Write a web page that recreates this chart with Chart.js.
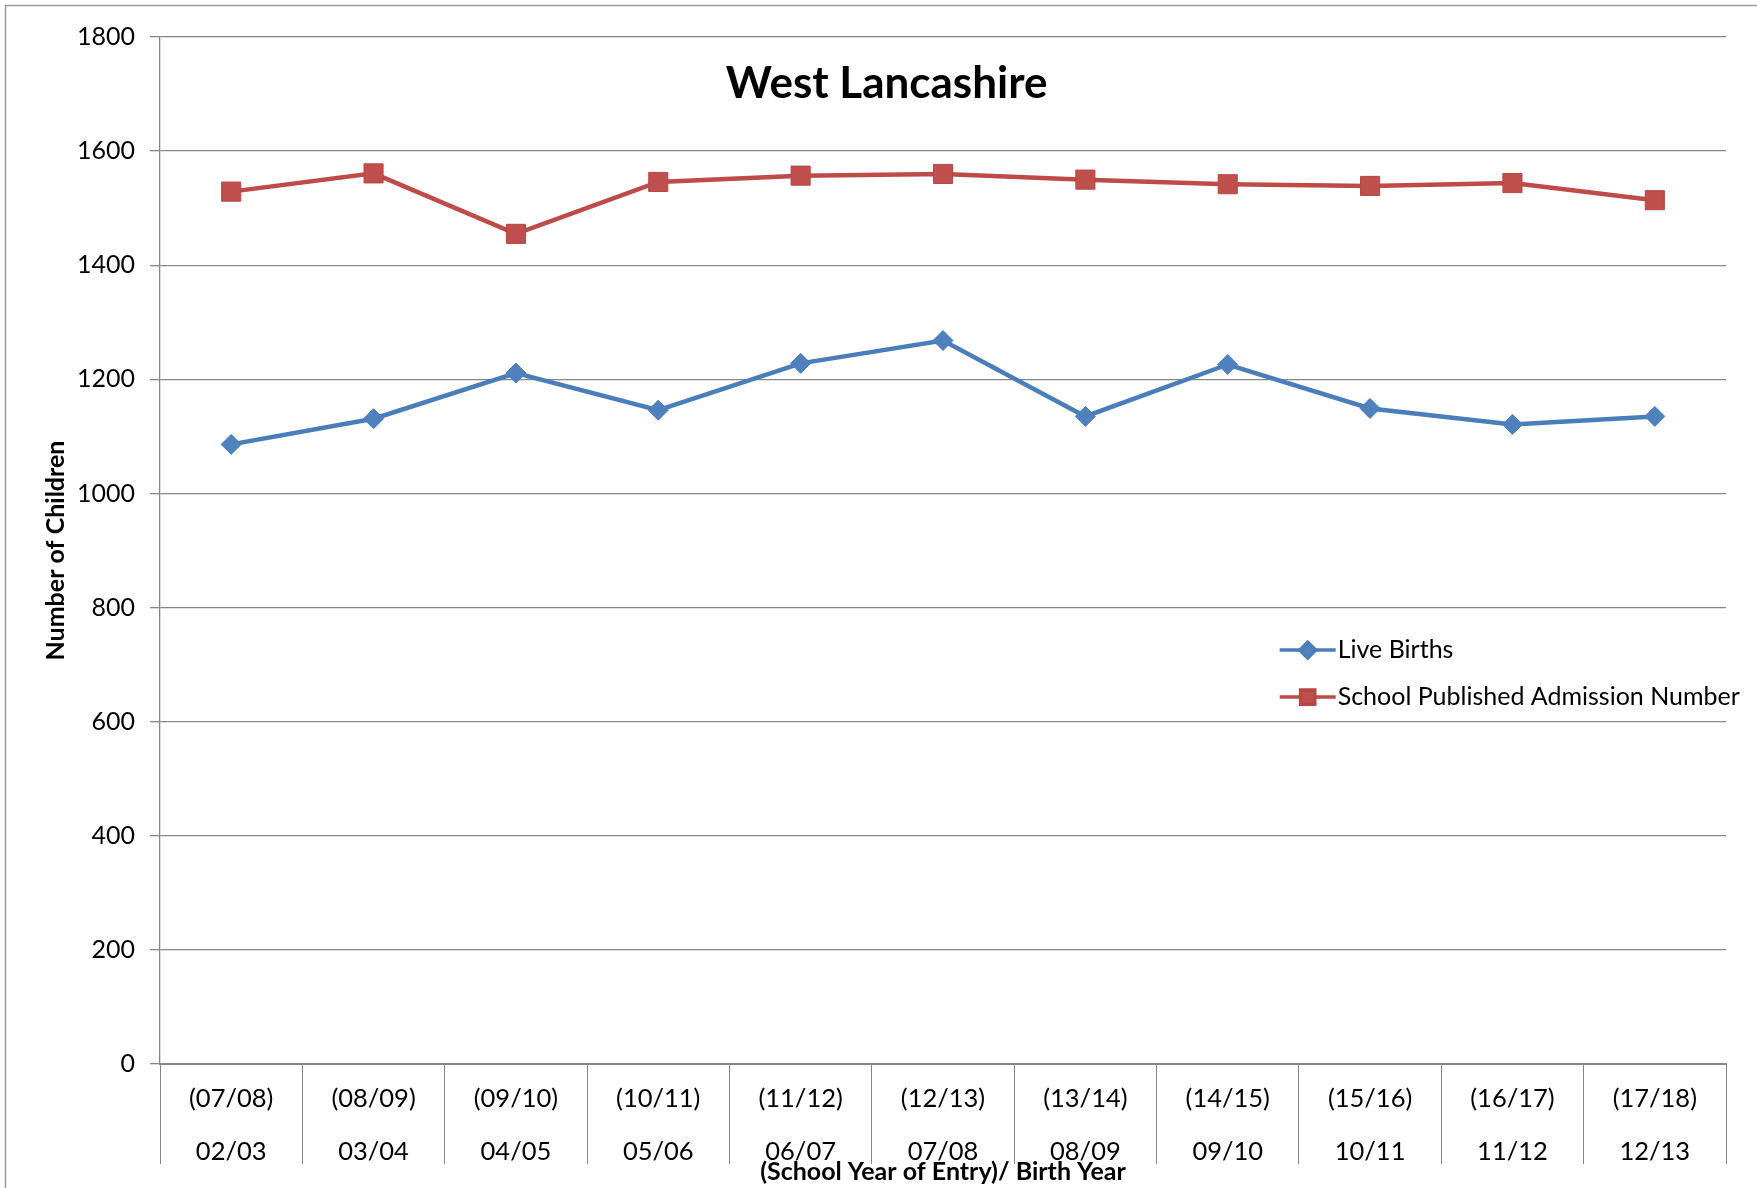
<!DOCTYPE html>
<html>
<head>
<meta charset="utf-8">
<script src="https://cdn.jsdelivr.net/npm/chart.js@4/dist/chart.umd.min.js"></script>
<style>
  html, body { margin: 0; padding: 0; background: #fff; }
  #wrap { position: relative; width: 1757px; height: 1188px; }
</style>
</head>
<body>
<div id="wrap"><canvas id="c" width="1757" height="1188"></canvas></div>
<script>
const chartTitle = "West Lancashire";
const schoolYears = ["(07/08)","(08/09)","(09/10)","(10/11)","(11/12)","(12/13)","(13/14)","(14/15)","(15/16)","(16/17)","(17/18)"];
const birthYears = ["02/03","03/04","04/05","05/06","06/07","07/08","08/09","09/10","10/11","11/12","12/13"];
const liveBirths = [1086, 1131, 1211, 1146, 1228, 1268, 1135, 1226, 1149, 1121, 1135];
const admissionNumber = [1529, 1561, 1455, 1546, 1557, 1560, 1550, 1542, 1539, 1544, 1514];
const seriesNames = ["Live Births", "School Published Admission Number"];
const yAxisTitle = "Number of Children";
const xAxisTitle = "(School Year of Entry)/ Birth Year";

const labels = schoolYears.map((s, i) => [s, birthYears[i]]);
const FONT = "Lato, 'Open Sans', sans-serif";
const GRID = "#878787";

const framePlugin = {
  id: 'frame',
  beforeDraw(chart) {
    const ctx = chart.ctx;
    ctx.save();
    ctx.fillStyle = '#fff';
    ctx.fillRect(0, 0, chart.width, chart.height);
    ctx.strokeStyle = '#9a9a9a';
    ctx.lineWidth = 1.5;
    ctx.strokeRect(5.5, 5.5, chart.width + 20, chart.height + 20);
    ctx.restore();
  }
};

const overlayPlugin = {
  id: 'overlay',
  afterDatasetsDraw(chart) {
    const ctx = chart.ctx;
    const a = chart.chartArea;
    ctx.save();
    // chart title inside plot
    ctx.fillStyle = '#000';
    ctx.font = "bold 44px " + FONT;
    ctx.textAlign = 'center';
    ctx.textBaseline = 'middle';
    ctx.fillText(chartTitle, a.left + (a.right - a.left) * 0.464, a.top + 47);
    // legend inside plot
    const lx = a.left + (a.right - a.left) * 0.715;
    const ly = a.top + (a.bottom - a.top) * 0.597;
    const gap = 47;
    chart.data.datasets.forEach((ds, i) => {
      const y = ly + i * gap;
      ctx.strokeStyle = ds.borderColor;
      ctx.lineWidth = 3.5;
      ctx.beginPath();
      ctx.moveTo(lx, y);
      ctx.lineTo(lx + 56, y);
      ctx.stroke();
      ctx.fillStyle = ds.pointBackgroundColor;
      ctx.strokeStyle = ds.pointBorderColor;
      Chart.helpers.drawPoint(ctx, {pointStyle: ds.pointStyle, rotation: 0, borderWidth: 1, radius: ds.pointStyle === 'rect' ? 10 : 8}, lx + 28, y);
      ctx.fillStyle = '#000';
      ctx.font = "25px " + FONT;
      ctx.textAlign = 'left';
      ctx.textBaseline = 'middle';
      ctx.fillText(ds.label, lx + 58, y);
    });
    ctx.restore();
  }
};

new Chart(document.getElementById('c'), {
  type: 'line',
  data: {
    labels: labels,
    datasets: [
      {
        label: seriesNames[0],
        data: liveBirths,
        borderColor: '#4A7EBB',
        backgroundColor: '#4F81BD',
        pointBackgroundColor: '#4F81BD',
        pointBorderColor: '#4A7EBB',
        pointStyle: 'rectRot',
        pointRadius: 10,
        pointBorderWidth: 1,
        borderWidth: 4.5,
        tension: 0,
        fill: false
      },
      {
        label: seriesNames[1],
        data: admissionNumber,
        borderColor: '#BE4B48',
        backgroundColor: '#C0504D',
        pointBackgroundColor: '#C0504D',
        pointBorderColor: '#B84643',
        pointStyle: 'rect',
        pointRadius: 13.5,
        pointBorderWidth: 1,
        borderWidth: 4.5,
        tension: 0,
        fill: false
      }
    ]
  },
  options: {
    responsive: false,
    animation: false,
    devicePixelRatio: 1,
    layout: { padding: { top: 37, right: 31, bottom: 0, left: 0 } },
    plugins: {
      legend: { display: false },
      title: { display: false },
      tooltip: { enabled: false }
    },
    scales: {
      x: {
        type: 'category',
        offset: true,
        grid: {
          display: true,
          offset: true,
          drawOnChartArea: false,
          drawTicks: true,
          tickLength: 100,
          color: GRID,
          lineWidth: 1
        },
        border: { display: true, color: GRID, width: 2 },
        ticks: {
          color: '#000',
          font: { family: FONT, size: 25.5, lineHeight: 2.08 },
          padding: -92,
          maxRotation: 0,
          autoSkip: false
        },
        title: {
          display: true,
          text: xAxisTitle,
          color: '#000',
          font: { family: FONT, size: 25, weight: 'bold' },
          padding: { top: 0, bottom: 1 }
        },
        afterFit(scale) { scale.height = 124; }
      },
      y: {
        min: 0,
        max: 1800,
        ticks: {
          stepSize: 200,
          color: '#000',
          font: { family: FONT, size: 25 },
          padding: 15,
          callback: (v) => String(v)
        },
        grid: {
          color: GRID,
          lineWidth: 1.3,
          drawTicks: true,
          tickLength: 10
        },
        border: { display: true, color: GRID, width: 1.3 },
        title: {
          display: true,
          text: yAxisTitle,
          color: '#000',
          font: { family: FONT, size: 25, weight: 'bold' },
          padding: { top: 41, bottom: 0 }
        },
        afterFit(scale) { scale.width = 160; }
      }
    }
  },
  plugins: [framePlugin, overlayPlugin]
});
</script>
</body>
</html>
